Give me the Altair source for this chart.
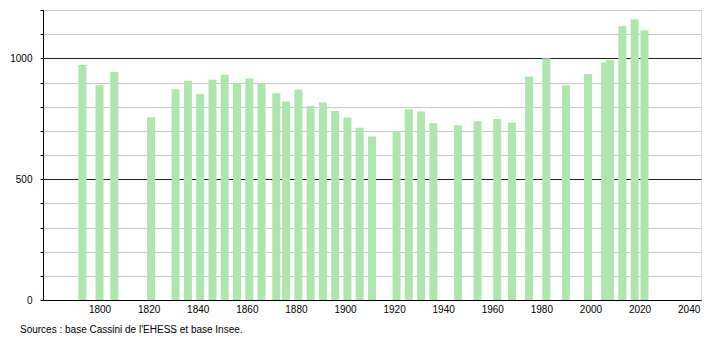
import altair as alt
import pandas as pd

years = [1793, 1800, 1806, 1821, 1831, 1836, 1841, 1846, 1851, 1856, 1861, 1866,
         1872, 1876, 1881, 1886, 1891, 1896, 1901, 1906, 1911, 1921, 1926, 1931,
         1936, 1946, 1954, 1962, 1968, 1975, 1982, 1990, 1999, 2006, 2008, 2013,
         2018, 2022]
population = [972, 889, 943, 756, 872, 906, 852, 911, 932, 897, 917, 897,
              856, 821, 871, 803, 817, 782, 755, 713, 677, 699, 789, 780,
              731, 723, 740, 749, 734, 925, 1000, 889, 935, 983, 993, 1133,
              1162, 1116]
x_ticks = list(range(1800, 2041, 20))
y_ticks = list(range(0, 1201, 100))
source_text = ["Sources : base Cassini de l'EHESS et base Insee."]

df = pd.DataFrame({"year": years, "pop": population})
FONT = "Liberation Sans"

bars = alt.Chart(df).mark_bar(size=8, color="#aee6ae").encode(
    x=alt.X("year:Q",
            scale=alt.Scale(domain=[1779, 2043], nice=False, zero=False),
            axis=alt.Axis(values=x_ticks, format="d", title=None, grid=False,
                          ticks=False, labelPadding=4, domainColor="#000",
                          labelFont=FONT, labelFontSize=10, labelColor="#000")),
    y=alt.Y("pop:Q",
            scale=alt.Scale(domain=[0, 1200], nice=False),
            axis=alt.Axis(values=y_ticks, format="d", title=None,
                          labelExpr="datum.value % 500 === 0 ? datum.label : ''",
                          gridColor={"condition": {"test": "datum.value % 500 === 0", "value": "#222"},
                                     "value": "#c8c8c8"},
                          tickSize=3, tickColor="#000", labelPadding=8,
                          domainColor="#000",
                          labelFont=FONT, labelFontSize=10, labelColor="#000")),
)

footer = alt.Chart(pd.DataFrame({"t": source_text})).mark_text(
    align="left", baseline="alphabetic", font=FONT, fontSize=10, color="#000"
).encode(text="t:N", x=alt.value(-23), y=alt.value(323))

chart = alt.layer(bars, footer).properties(
    width=658, height=290,
    autosize=alt.AutoSizeParams(type="none"),
    padding={"left": 43, "top": 10, "right": 9, "bottom": 40},
).configure_view(stroke=None).configure(background="#ffffff")

chart.save("out.html", embed_options={"renderer": "svg", "actions": False})
